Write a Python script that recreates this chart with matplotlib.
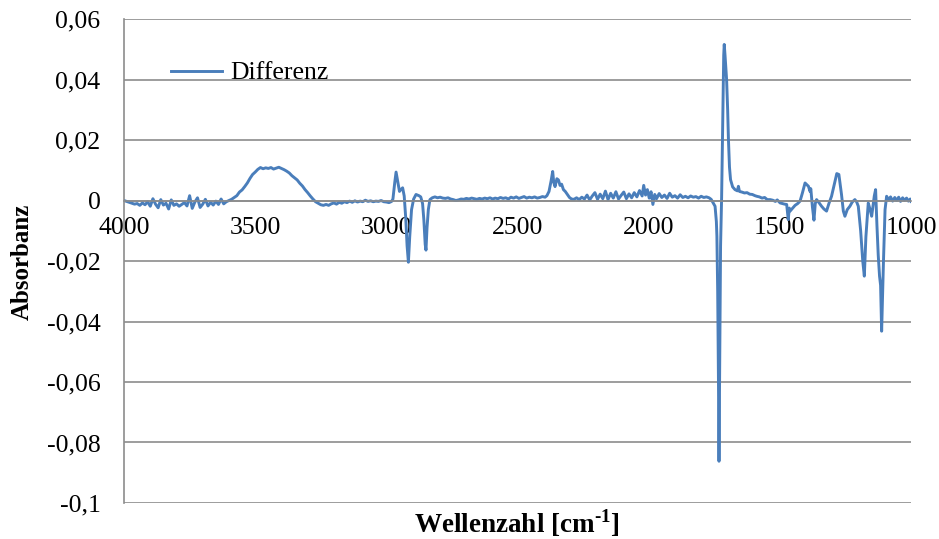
import numpy as np
import matplotlib.pyplot as plt

plt.rcParams['font.family'] = ['Liberation Serif', 'DejaVu Serif']
plt.rcParams['mathtext.fontset'] = 'custom'
plt.rcParams['mathtext.rm'] = 'Liberation Serif:bold'
plt.rcParams['mathtext.bf'] = 'Liberation Serif:bold'

##### Daten (Absorbanz in 1e-3) #####
# Basislinie 4000-3610
wn_basis = [4000, 3990, 3980, 3970, 3960, 3950, 3940, 3930, 3920, 3910,
            3900, 3890, 3880, 3870, 3860, 3850, 3840, 3830, 3820, 3810,
            3800, 3790, 3780, 3770, 3760, 3750, 3740, 3730, 3720, 3710,
            3700, 3690, 3680, 3670, 3660, 3650, 3640, 3630, 3620, 3610]
ab_basis = [0.0, -0.3, -0.6, -0.9, -1.2, -1.0, -1.6, -0.8, -1.4, -0.4,
            -1.9, 0.6, -1.2, -2.4, 0.3, -1.5, -0.9, -2.8, 0.2, -1.6,
            -1.1, -1.9, -1.3, -0.7, -1.8, 1.6, -2.6, -0.5, 0.9, -2.3,
            -1.2, 0.4, -1.8, -0.6, -1.5, -0.2, -1.3, 0.5, -1.1, -0.4]

# OH-Bande 3600-3240
wn_oh = [3600, 3590, 3580, 3570, 3560, 3550, 3540, 3530, 3520, 3510,
         3500, 3490, 3480, 3470, 3460, 3450, 3440, 3430, 3420, 3410,
         3400, 3390, 3380, 3370, 3360, 3350, 3340, 3330, 3320, 3310,
         3300, 3290, 3280, 3270, 3260, 3250, 3240]
ab_oh = [0.0, 0.4, 1.0, 1.6, 2.8, 3.5, 4.6, 5.8, 7.3, 8.6,
         9.4, 10.3, 10.9, 10.5, 10.8, 10.6, 10.9, 10.4, 10.7, 11.0,
         10.6, 10.2, 9.7, 9.1, 8.2, 7.5, 6.8, 5.7, 4.8, 3.6,
         2.6, 1.5, 0.5, -0.4, -0.9, -1.4, -1.6]

# 3230-2980
wn_ch0 = [3230, 3220, 3210, 3200, 3190, 3180, 3170, 3160, 3150, 3140,
          3130, 3120, 3110, 3100, 3090, 3080, 3070, 3060, 3050, 3040,
          3030, 3020, 3010, 3000, 2990, 2980]
ab_ch0 = [-1.3, -1.6, -1.1, -0.8, -1.2, -0.6, -0.9, -0.4, -0.7, -0.2,
          -0.6, -0.1, -0.5, -0.2, -0.4, 0.1, -0.3, -0.1, -0.4, -0.2,
          -0.3, 0.0, -0.4, -0.5, -0.7, -0.3]

# CH-Banden 2975-2795
wn_ch = [2975, 2968, 2963, 2957, 2950, 2945, 2938, 2932, 2926, 2921,
         2916, 2911, 2904, 2896, 2887, 2876, 2869, 2862, 2857, 2852,
         2849, 2845, 2840, 2834, 2825, 2815, 2805, 2795]
ab_ch = [0.5, 6.0, 9.4, 6.5, 3.0, 3.6, 4.2, 1.5, -6.0, -15.0,
         -20.4, -12.0, -3.0, 0.5, 2.0, 1.6, 1.2, -1.0, -6.5, -14.5,
         -16.4, -9.0, -3.0, 0.3, 0.9, 1.2, 0.9, 1.1]

# 2785-2388
wn_mitte = [2785, 2775, 2765, 2755, 2745, 2735, 2725, 2715, 2705, 2695,
            2685, 2675, 2665, 2655, 2645, 2635, 2625, 2615, 2605, 2595,
            2585, 2575, 2565, 2555, 2545, 2535, 2525, 2515, 2505, 2495,
            2485, 2475, 2465, 2455, 2445, 2435, 2425, 2415, 2405, 2395, 2388]
ab_mitte = [0.8, 0.7, 0.9, 0.5, 0.3, 0.0, 0.2, 0.5, 0.4, 0.7,
            0.5, 0.8, 0.6, 0.4, 0.7, 0.5, 0.8, 0.6, 0.9, 0.5,
            0.8, 0.6, 1.0, 0.7, 0.9, 0.5, 1.1, 0.8, 1.2, 0.7,
            1.0, 1.3, 0.8, 1.1, 0.9, 1.2, 0.8, 1.0, 1.3, 1.1, 1.6]

# CO2 2380-2294
wn_co2 = [2380, 2372, 2366, 2362, 2357, 2350, 2344, 2338, 2332, 2325,
          2318, 2310, 2302, 2294]
ab_co2 = [3.0, 6.5, 9.6, 6.0, 4.6, 7.2, 6.8, 5.0, 5.4, 3.6,
          3.0, 2.0, 1.0, 0.5]

# 2285-1762
wn_rausch = [2285, 2275, 2265, 2255, 2245, 2235, 2225, 2215, 2205, 2195,
             2185, 2175, 2165, 2155, 2145, 2135, 2125, 2115, 2105, 2095,
             2085, 2075, 2065, 2055, 2045, 2035, 2025, 2019, 2012, 2005,
             1998, 1991, 1984, 1977, 1970, 1960, 1950, 1940, 1930, 1920,
             1910, 1900, 1890, 1880, 1870, 1860, 1850, 1840, 1830, 1820,
             1810, 1800, 1790, 1780, 1770, 1762]
ab_rausch = [0.4, 0.9, 0.3, 1.1, 0.5, 1.8, 0.2, 1.5, 2.6, 0.4,
             2.1, 0.6, 3.1, 0.3, 2.4, 0.8, 2.9, 0.5, 1.7, 2.8,
             0.6, 2.2, 0.9, 2.6, 1.2, 3.3, 1.5, 5.0, 1.8, 3.6,
             0.8, 2.9, -1.3, 2.0, 0.6, 2.3, 1.0, 1.8, 0.7, 2.4,
             1.1, 1.6, 0.8, 1.9, 1.0, 1.4, 0.9, 1.5, 1.1, 1.3,
             0.8, 1.4, 1.0, 1.2, 0.9, 0.4]

# C=O 1754-1635
wn_co = [1754, 1747, 1742, 1740, 1737, 1734, 1732, 1729, 1726, 1722,
         1718, 1714, 1712, 1709, 1703, 1699, 1696, 1692, 1688, 1680,
         1671, 1662, 1658, 1654, 1645, 1635]
ab_co = [-0.8, -1.9, -7.0, -11.8, -30.0, -60.0, -86.2, -50.0, -15.0, 1.0,
         25.0, 48.0, 51.6, 48.0, 40.0, 30.0, 20.2, 11.0, 6.9, 4.5,
         3.6, 3.2, 4.7, 3.0, 2.8, 2.5]

# Fingerprint 1625-1000
wn_fp = [1625, 1615, 1605, 1595, 1588, 1578, 1568, 1558, 1548, 1537,
         1527, 1517, 1510, 1499, 1490, 1482, 1474, 1468, 1464, 1461,
         1452, 1442, 1432, 1423, 1414, 1404, 1397, 1391, 1385, 1382,
         1376, 1370, 1365, 1360, 1350, 1341, 1332, 1322, 1313, 1303,
         1292, 1283, 1275, 1265, 1258, 1252, 1243, 1233, 1224, 1214,
         1207, 1201, 1192, 1184, 1178, 1172, 1163, 1156, 1150, 1140,
         1135, 1130, 1125, 1120, 1116, 1112, 1105, 1099, 1093, 1085,
         1078, 1070, 1062, 1055, 1047, 1040, 1032, 1025, 1017, 1010,
         1003, 1000]
ab_fp = [2.6, 2.1, 2.0, 1.6, 1.4, 1.2, 0.8, 1.0, 0.3, 0.3,
         0.1, -0.3, 0.2, -0.8, -1.0, -1.2, -1.3, -6.3, -2.5, -3.5,
         -2.6, -1.6, -1.0, -0.2, 2.5, 5.8, 5.2, 4.7, 3.0, 3.9,
         -2.0, -6.5, -1.0, 0.3, -0.8, -1.9, -2.8, -3.5, -1.0, 1.4,
         5.5, 8.9, 8.6, 2.0, -3.5, -5.2, -3.0, -1.9, -0.5, 0.3,
         -0.5, -1.9, -10.0, -20.0, -25.0, -12.0, -0.8, -3.0, -5.2, 1.5,
         3.6, -8.0, -18.0, -25.0, -28.0, -43.2, -20.0, -3.0, 1.4, 0.2,
         1.2, -0.2, 1.0, 0.0, 1.1, -0.3, 0.9, 0.1, 0.8, -0.2,
         0.5, -0.3]

wellenzahl = np.concatenate([wn_basis, wn_oh, wn_ch0, wn_ch, wn_mitte,
                             wn_co2, wn_rausch, wn_co, wn_fp])
absorbanz = np.concatenate([ab_basis, ab_oh, ab_ch0, ab_ch, ab_mitte,
                            ab_co2, ab_rausch, ab_co, ab_fp]) / 1000.0

x_ticks = [4000, 3500, 3000, 2500, 2000, 1500, 1000]
y_ticks = [0.06, 0.04, 0.02, 0, -0.02, -0.04, -0.06, -0.08, -0.1]
y_labels = ["0,06", "0,04", "0,02", "0", "-0,02", "-0,04", "-0,06", "-0,08", "-0,1"]

##### Plot #####
fig = plt.figure(figsize=(9.39, 5.39), dpi=100)
ax = fig.add_axes([0.1321, 0.0668, 0.8381, 0.8979])

ax.plot(wellenzahl, absorbanz, color="#4a7ebb", lw=2.1, label="Differenz")

ax.set_xlim(4000, 1000)
ax.set_ylim(-0.1, 0.06)
ax.set_xticks(x_ticks)
ax.set_xticklabels([str(t) for t in x_ticks])
ax.set_yticks(y_ticks)
ax.set_yticklabels(y_labels)
ax.tick_params(axis="both", length=0, labelsize=18.5)
ax.tick_params(axis="y", pad=17)
ax.tick_params(axis="x", pad=12)

ax.grid(axis="y", color="#8c8c8c", lw=1.2)
ax.set_axisbelow(True)
for s in ["top", "right"]:
    ax.spines[s].set_visible(False)
ax.spines["bottom"].set_position(("data", 0))
ax.spines["bottom"].set_color("#8c8c8c")
ax.spines["bottom"].set_linewidth(1.2)
ax.spines["left"].set_color("#8c8c8c")
ax.spines["left"].set_linewidth(1.2)

ax.legend(loc="upper left", bbox_to_anchor=(0.03, 0.96), frameon=False,
          fontsize=18.5, handlelength=2.0, handletextpad=0.3)

fig.text(0.551, 0.030, "Wellenzahl [cm$^{\\mathrm{\\text{-}1}}$]", ha="center", va="center",
         fontsize=19.5, fontweight="bold")
fig.text(0.024, 0.515, "Absorbanz", ha="center", va="center", rotation=90,
         fontsize=18, fontweight="bold")

fig.savefig("out.png", dpi=100)
